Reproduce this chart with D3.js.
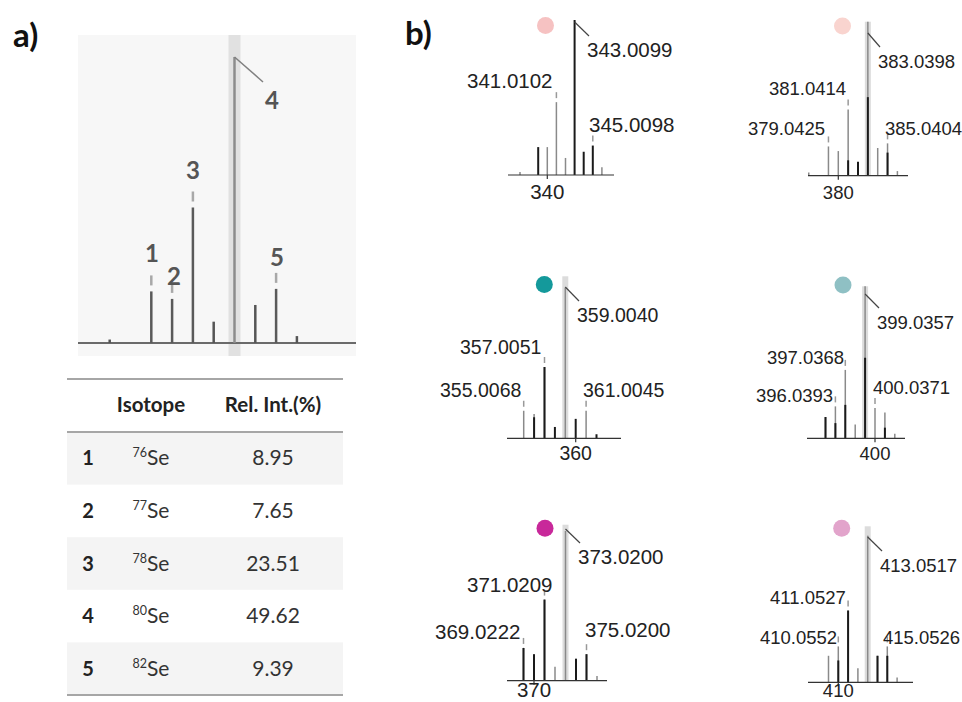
<!DOCTYPE html>
<html><head><meta charset="utf-8">
<script src="https://cdn.jsdelivr.net/npm/d3@7"></script>
<style>body{margin:0;background:#fff}svg{display:block}</style>
</head><body><svg id="c" width="962" height="702"></svg>
<script>
// ---------- Panel a data ----------
const isoNums = ["1","2","3","4","5"];
const isoMass = [76, 77, 78, 80, 82];
const isoElem = ["Se","Se","Se","Se","Se"];
const relInt = [8.95, 7.65, 23.51, 49.62, 9.39];
const minorMass = [74, 79, 81, 83];
const minorInt = [0.6, 3.7, 6.6, 1.2];
const tableHeaders = ["Isotope", "Rel. Int.(%)"];

// ---------- Panel b data ----------
const mainMz = [343, 383, 359, 399, 373, 413];
const tickMz = [340, 380, 360, 400, 370, 410];
const dotColors = ["#f6c2c2", "#f9d4cf", "#14999b", "#8fc0c4", "#c8289a", "#e2a4cb"];
const peakStart = [337, 377, 355, 395, 369, 409];
const simInt = [
  [2, 0, 0, 18, 47, 11, 0, 0, 0, 5],
  [2, 0, 19, 16, 43, 0, 100, 18, 21, 3],
  [17, 15, 44, 0, 93, 0, 17, 0],
  [14, 21, 45, 9, 100, 20, 17, 3],
  [21, 17, 52, 9, 96, 14, 17, 3],
  [17, 23, 46, 9, 94, 17, 23, 3]
];
const expInt = [
  [0, 0, 18, 0, 0, 0, 100, 15, 19, 0],
  [0, 0, 0, 0, 10, 9, 51, 0, 15, 0],
  [0, 13, 44, 7, 0, 12, 0, 2.5],
  [14, 10, 22, 0, 53, 0, 7, 0],
  [21, 17, 52, 0, 0, 14, 17, 0],
  [0, 14, 46, 0, 0, 17, 17, 0]
];
const mzLabels = [
  ["343.0099", "341.0102", "345.0098"],
  ["383.0398", "381.0414", "379.0425", "385.0404"],
  ["359.0040", "357.0051", "355.0068", "361.0045"],
  ["399.0357", "397.0368", "396.0393", "400.0371"],
  ["373.0200", "371.0209", "369.0222", "375.0200"],
  ["413.0517", "411.0527", "410.0552", "415.0526"]
];

// ---------- Layout (positions only) ----------
const layoutB = [
  {cx: 547.3, step: 9.1,  base: 175,   h: 155, l: 508, r: 614, band: false, dot: [545.5, 25.5], tickY: 199, fs: 20.5,
   lab: [[587, 50], [467, 81], [589, 125]]},
  {cx: 838.3, step: 9.85, base: 175.7, h: 154, l: 808, r: 908, band: true, dot: [842.5, 26], tickY: 199, fs: 18.5,
   lab: [[878, 61], [769, 88], [748, 128], [885, 128]]},
  {cx: 575.7, step: 10.4, base: 438.3, h: 162, l: 507, r: 621, band: true, dot: [544.3, 284.5], tickY: 460, fs: 19.5,
   lab: [[577, 315], [460, 347], [440, 390], [583, 390]]},
  {cx: 875,   step: 9.9,  base: 438.3, h: 152, l: 807, r: 905, band: true, dot: [843, 285], tickY: 460, fs: 18.5,
   lab: [[877, 322], [767, 357], [756, 395], [873, 387]]},
  {cx: 534,   step: 10.5, base: 680.7, h: 156, l: 507, r: 607, band: true, dot: [545, 528.3], tickY: 697, fs: 20.5,
   lab: [[578, 557], [467, 585], [435, 632], [585, 630]]},
  {cx: 838.3, step: 9.8,  base: 682.3, h: 156, l: 808, r: 913, band: true, dot: [841.7, 528.3], tickY: 697, fs: 18.5,
   lab: [[880, 565], [770, 597], [760, 637], [883, 637]]}
];
const labelPosA = [[152, 253], [174, 276], [193, 170], [272, 100], [277, 257]];

const svg = d3.select("#c");
const FONT_T = "Lato, 'Open Sans', sans-serif";
const FONT_B = "'Liberation Sans', Arial, sans-serif";

// Panel letters
svg.append("text").attr("x", 13).attr("y", 47).text("a)")
  .attr("font-family", FONT_T).attr("font-weight", 700).attr("font-size", 33).attr("fill", "#111");
svg.append("text").attr("x", 405).attr("y", 45).text("b)")
  .attr("font-family", FONT_T).attr("font-weight", 700).attr("font-size", 33).attr("fill", "#111");

// ---------- Panel a spectrum ----------
const gA = svg.append("g");
gA.append("rect").attr("x", 78).attr("y", 35).attr("width", 278).attr("height", 321).attr("fill", "#f7f7f7");
const xA = d3.scaleLinear().domain([76, 77]).range([151.3, 172.1]);
const yA = d3.scaleLinear().domain([0, 49.62]).range([343, 57]);
const i4 = relInt.indexOf(d3.max(relInt));
gA.append("rect").attr("x", xA(isoMass[i4]) - 6).attr("y", 35).attr("width", 12).attr("height", 321)
  .attr("fill", "#e1e1e1");
gA.append("line").attr("x1", 78).attr("x2", 356).attr("y1", yA(0)).attr("y2", yA(0))
  .attr("stroke", "#6a6a6a").attr("stroke-width", 2);
gA.selectAll(".minor").data(minorMass).join("line")
  .attr("x1", d => xA(d)).attr("x2", d => xA(d))
  .attr("y1", yA(0)).attr("y2", (d, i) => yA(minorInt[i]))
  .attr("stroke", "#555").attr("stroke-width", 2.5);
gA.selectAll(".iso").data(isoMass).join("line")
  .attr("x1", d => xA(d)).attr("x2", d => xA(d))
  .attr("y1", yA(0)).attr("y2", (d, i) => yA(relInt[i]))
  .attr("stroke", (d, i) => i === i4 ? "#8c8c8c" : "#5a5a5a").attr("stroke-width", 2.5);
gA.selectAll(".mark").data(isoMass.filter((d, i) => i !== i4)).join("line")
  .attr("x1", d => xA(d)).attr("x2", d => xA(d))
  .attr("y1", d => yA(relInt[isoMass.indexOf(d)]) - 6)
  .attr("y2", d => yA(relInt[isoMass.indexOf(d)]) - 16)
  .attr("stroke", "#a8a8a8").attr("stroke-width", 2.5);
gA.append("line").attr("x1", xA(isoMass[i4])).attr("y1", yA(relInt[i4]))
  .attr("x2", 263).attr("y2", 82).attr("stroke", "#808080").attr("stroke-width", 1.5);
gA.selectAll(".num").data(isoNums).join("text")
  .attr("x", (d, i) => labelPosA[i][0]).attr("y", (d, i) => labelPosA[i][1] + 8.5)
  .attr("text-anchor", "middle").text(d => d)
  .attr("font-family", FONT_T).attr("font-weight", 700).attr("font-size", 24).attr("fill", "#555");

// ---------- Panel a table ----------
const gT = svg.append("g");
const tL = 67, tR = 343, tTop = 379, hdrBot = 432, rowH = 52.6;
isoNums.forEach((n, i) => {
  if (i % 2 === 0)
    gT.append("rect").attr("x", tL).attr("y", hdrBot + i * rowH).attr("width", tR - tL).attr("height", rowH)
      .attr("fill", "#f4f4f4");
});
[tTop, hdrBot, hdrBot + rowH * isoNums.length].forEach(y =>
  gT.append("line").attr("x1", tL).attr("x2", tR).attr("y1", y).attr("y2", y)
    .attr("stroke", "#a6a6a6").attr("stroke-width", 2));
const colX = [88, 151, 273];
tableHeaders.forEach((h, j) =>
  gT.append("text").attr("x", colX[j + 1]).attr("y", 412).attr("text-anchor", "middle").text(h)
    .attr("font-family", FONT_T).attr("font-weight", 700).attr("font-size", 20.5).attr("fill", "#222"));
isoNums.forEach((n, i) => {
  const cy = hdrBot + rowH * (i + 0.5) + 7;
  gT.append("text").attr("x", colX[0]).attr("y", cy).attr("text-anchor", "middle").text(n)
    .attr("font-family", FONT_T).attr("font-weight", 700).attr("font-size", 20).attr("fill", "#222");
  const t = gT.append("text").attr("x", colX[1]).attr("y", cy).attr("text-anchor", "middle")
    .attr("font-family", FONT_T).attr("font-size", 21).attr("fill", "#333");
  t.append("tspan").text(isoMass[i]).attr("font-size", 12.5).attr("dy", -8);
  t.append("tspan").text(isoElem[i]).attr("dy", 8);
  gT.append("text").attr("x", colX[2]).attr("y", cy).attr("text-anchor", "middle").text(relInt[i].toFixed(2))
    .attr("font-family", FONT_T).attr("font-size", 21).attr("fill", "#333");
});

// ---------- Panel b spectra ----------
layoutB.forEach((L, p) => {
  const g = svg.append("g");
  const x = d3.scaleLinear().domain([tickMz[p], tickMz[p] + 1]).range([L.cx, L.cx + L.step]);
  const y = d3.scaleLinear().domain([0, 100]).range([L.base, L.base - L.h]);
  const mzs = simInt[p].map((d, i) => peakStart[p] + i);
  if (L.band)
    g.append("rect").attr("x", x(mainMz[p]) - 3).attr("y", y(100)).attr("width", 6)
      .attr("height", y(0) - y(100)).attr("fill", "#dcdcdc");
  g.selectAll(".sim").data(mzs).join("line")
    .attr("x1", d => x(d)).attr("x2", d => x(d))
    .attr("y1", y(0)).attr("y2", (d, i) => y(simInt[p][i]))
    .attr("stroke", "#8a8a8a").attr("stroke-width", 1.5);
  g.selectAll(".exp").data(mzs).join("line")
    .attr("x1", d => x(d)).attr("x2", d => x(d))
    .attr("y1", y(0)).attr("y2", (d, i) => y(expInt[p][i]))
    .attr("stroke", "#1a1a1a").attr("stroke-width", 2);
  g.append("line").attr("x1", L.l).attr("x2", L.r).attr("y1", y(0)).attr("y2", y(0))
    .attr("stroke", "#333").attr("stroke-width", 1.2);
  g.append("line").attr("x1", x(tickMz[p])).attr("x2", x(tickMz[p])).attr("y1", y(0)).attr("y2", y(0) + 4)
    .attr("stroke", "#333").attr("stroke-width", 1.2);
  g.append("text").attr("x", x(tickMz[p])).attr("y", L.tickY).attr("text-anchor", "middle").text(tickMz[p])
    .attr("font-family", FONT_B).attr("font-size", L.fs).attr("fill", "#222");
  mzLabels[p].slice(1).forEach(s => {
    const m = Math.round(parseFloat(s));
    const k = m - peakStart[p];
    const top = y(Math.max(simInt[p][k], expInt[p][k]));
    g.append("line").attr("x1", x(m)).attr("x2", x(m)).attr("y1", top - 4).attr("y2", top - 10)
      .attr("stroke", "#999").attr("stroke-width", 1.5);
  });
  const [lx, ly] = L.lab[0];
  g.append("line").attr("x1", x(mainMz[p])).attr("y1", ly - 28).attr("x2", lx + 2).attr("y2", ly - 14)
    .attr("stroke", "#444").attr("stroke-width", 1.2);
  g.append("circle").attr("cx", L.dot[0]).attr("cy", L.dot[1]).attr("r", 8.5).attr("fill", dotColors[p]);
  mzLabels[p].forEach((s, j) =>
    g.append("text").attr("x", L.lab[j][0]).attr("y", L.lab[j][1] + 7).text(s)
      .attr("font-family", FONT_B).attr("font-size", L.fs).attr("fill", "#222"));
});
</script></body></html>
